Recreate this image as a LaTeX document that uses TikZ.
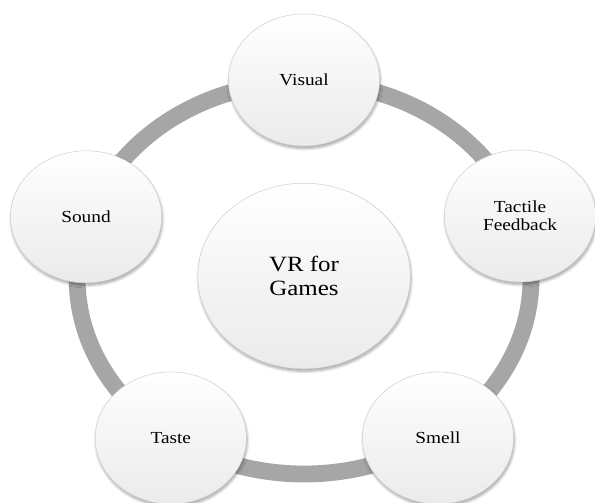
\documentclass[tikz,border=0pt]{standalone}
\usepackage{fontspec}
\setmainfont{Liberation Serif}
\usetikzlibrary{shadows.blur}

\definecolor{ringgray}{RGB}{166,166,166}

\begin{document}
\begin{tikzpicture}[
    xscale=1.145, transform shape,
    sense/.style={circle, draw=gray!35, line width=0.4pt, top color=white, bottom color=gray!16,
        minimum size=3.3cm, inner sep=0pt, align=center,
        font=\fontsize{12}{12.8}\selectfont,
        blur shadow={shadow xshift=0.6pt, shadow yshift=-1.8pt, shadow blur steps=6, shadow opacity=35}},
    hub/.style={circle, draw=gray!35, line width=0.4pt, top color=white, bottom color=gray!16,
        minimum size=4.64cm, inner sep=0pt, align=center,
        font=\fontsize{15.5}{16.5}\selectfont,
        blur shadow={shadow xshift=0.6pt, shadow yshift=-1.8pt, shadow blur steps=6, shadow opacity=35}},
    ring/.style={draw=ringgray, line width=0.42cm}
]
\clip (0,0) rectangle (12.991,-12.55);

% Ring
\coordinate (mid) at (6.638,-6.95);
\draw[ring] (mid) ellipse [x radius=4.956, y radius=4.9];

% Nodes
\node[hub] (vr) at (6.638,-6.9) {VR for\\Games};
\node[sense] (visual) at (6.638,-2.0) {Visual};
\node[sense] (tactile) at (11.354,-5.4) {Tactile\\Feedback};
\node[sense] (smell) at (9.563,-10.95) {Smell};
\node[sense] (taste) at (3.729,-10.95) {Taste};
\node[sense] (sound) at (1.878,-5.42) {Sound};

\end{tikzpicture}
\end{document}
